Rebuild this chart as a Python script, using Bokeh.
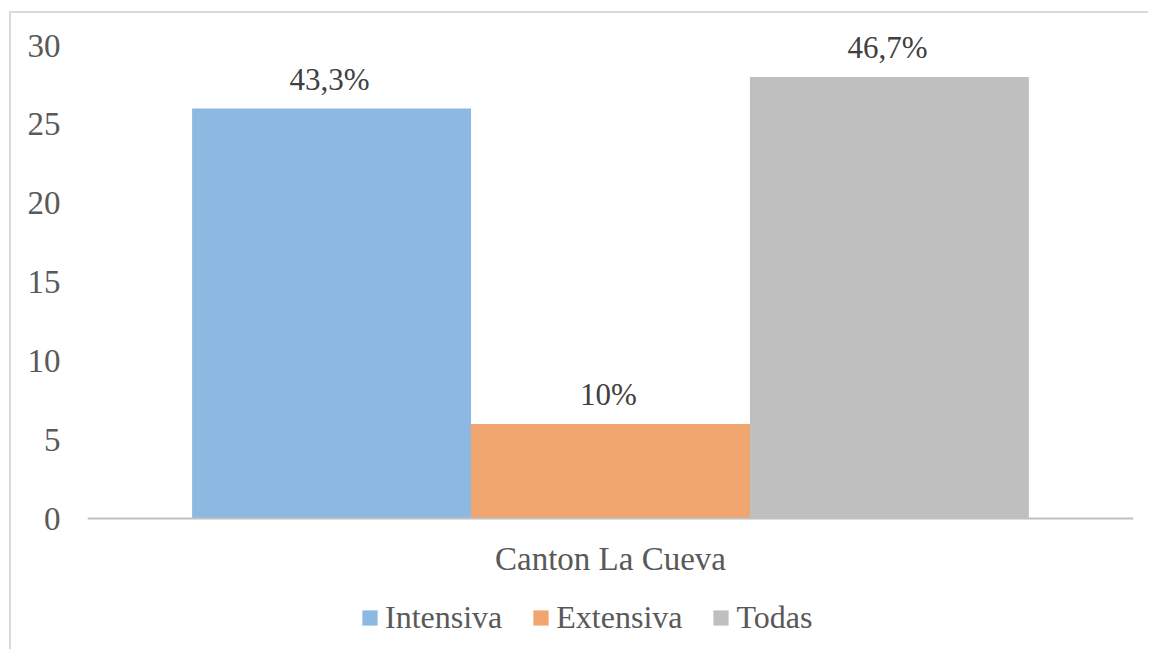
from bokeh.plotting import figure
from bokeh.models import (ColumnDataSource, FactorRange, Range1d, LabelSet, Legend,
                          LegendItem, FixedTicker)
from bokeh.transform import dodge
from bokeh.embed import file_html
from bokeh.resources import INLINE

category = ["Canton La Cueva"]
series = ["Intensiva", "Extensiva", "Todas"]
values = [26, 6, 28]
labels = ["43,3%", "10%", "46,7%"]
colors = ["#8DB8E2", "#F0A46E", "#BFBFBF"]
y_ticks = [0, 5, 10, 15, 20, 25, 30]

FONT = "Liberation Serif"

p = figure(width=1139, height=638, x_range=FactorRange(*category), y_range=Range1d(-8.435, 32.03),
           output_backend="svg", toolbar_location=None,
           min_border_left=76, min_border_right=17, min_border_top=0, min_border_bottom=0)
p.styles = {"border-left": "2px solid #D9D9D9", "border-top": "2px solid #D9D9D9",
            "margin-top": "11px", "margin-left": "9px"}
p.outline_line_color = None
p.xgrid.grid_line_color = None
p.ygrid.grid_line_color = None

bw = 0.8 / 3
offsets = [-bw, 0, bw]
renderers = []
for i, (s, v, lab, c) in enumerate(zip(series, values, labels, colors)):
    src = ColumnDataSource(dict(cat=category, val=[v], lab=[lab]))
    r = p.vbar(x=dodge("cat", offsets[i], range=p.x_range), top="val", bottom=0, width=bw,
               source=src, fill_color=c, line_color=None)
    renderers.append(r)
    ls = LabelSet(x=dodge("cat", offsets[i], range=p.x_range), y="val", text="lab", source=src,
                  text_align="center", text_baseline="alphabetic", y_offset=19, x_offset=-2,
                  text_font=FONT, text_font_size="31px", text_color="#404040")
    p.add_layout(ls)

p.yaxis.ticker = FixedTicker(ticks=y_ticks)
p.yaxis.axis_line_color = None
p.yaxis.major_tick_line_color = None
p.yaxis.minor_tick_line_color = None
p.yaxis.major_label_standoff = 21
p.yaxis.major_label_text_font = FONT
p.yaxis.major_label_text_font_size = "33px"
p.yaxis.major_label_text_color = "#595959"

p.xaxis.fixed_location = 0
p.xaxis.axis_line_color = "#BFBFBF"
p.xaxis.axis_line_width = 2
p.xaxis.major_tick_line_color = None
p.xaxis.minor_tick_line_color = None
p.xaxis.major_label_standoff = 16
p.xaxis.major_label_text_font = FONT
p.xaxis.major_label_text_font_size = "33px"
p.xaxis.major_label_text_color = "#595959"

legend = Legend(items=[LegendItem(label=s, renderers=[r]) for s, r in zip(series, renderers)],
                orientation="horizontal", location=(273, 15),
                label_text_font=FONT, label_text_font_size="32px", label_text_color="#595959",
                glyph_width=19, glyph_height=19, label_standoff=6, spacing=29,
                border_line_color=None, background_fill_alpha=0, padding=4, margin=0)
p.add_layout(legend, "center")

open("out.html", "w").write(file_html(p, INLINE))
